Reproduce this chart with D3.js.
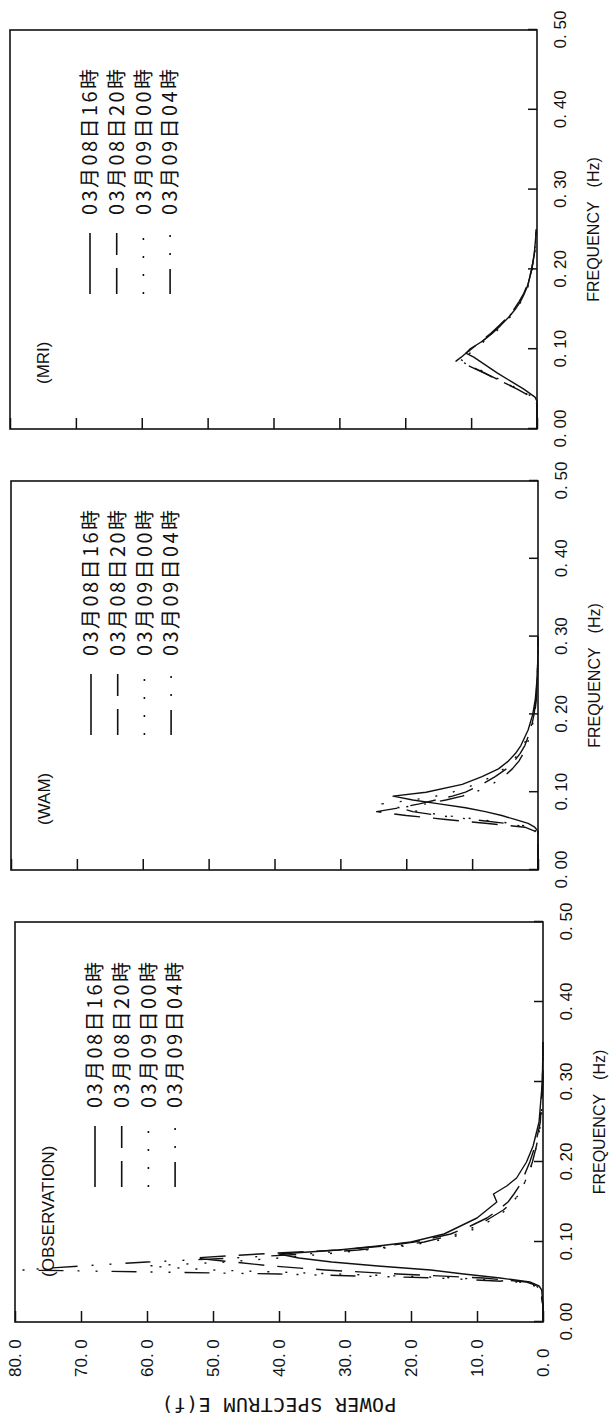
<!DOCTYPE html>
<html>
  <head>
    <meta charset="utf-8" />
    <title>Power spectrum E(f)</title>
    <script src="https://d3js.org/d3.v7.min.js"></script>
    <style>
      body {
        margin: 0;
        background: #fff;
      }
      svg {
        display: block;
      }
      .frame {
        fill: none;
        stroke: #111;
        stroke-width: 1.6;
      }
      .curve {
        fill: none;
        stroke: #111;
        stroke-width: 1.4;
        stroke-linejoin: round;
      }
      .axis path.domain {
        display: none;
      }
      .axis line {
        stroke: #111;
        stroke-width: 1.5;
      }
      .axis text,
      .panel-name,
      .axis-title {
        font-family: 'Liberation Sans', Arial, sans-serif;
        fill: #111;
      }
      .axis text {
        font-size: 17px;
      }
      .panel-name {
        font-size: 17px;
      }
      .axis-title {
        font-size: 16px;
      }
      .power-title {
        font-family: 'DejaVu Sans Mono', monospace;
        font-size: 20px;
        fill: #111;
      }
      .legend text {
        font-family: 'Noto Sans CJK JP', sans-serif;
        font-size: 20px;
        fill: #111;
      }
    </style>
  </head>
  <body>
    <div id="chart"></div>
    <script>
      // 凡例・目盛
      const legendLabels = ['03月08日16時', '03月08日20時', '03月09日00時', '03月09日04時'];
      const freqTicks = [0, 0.1, 0.2, 0.3, 0.4, 0.5];
      const powerTicks = [0, 10, 20, 30, 40, 50, 60, 70, 80];

      // MRI
      const mriFreq = [0, 0.03, 0.035, 0.04, 0.05, 0.06, 0.07, 0.08, 0.085, 0.09, 0.095, 0.10, 0.11, 0.12, 0.13, 0.14, 0.15, 0.16, 0.17, 0.18, 0.20, 0.22, 0.25];
      const mri16 = [0, 0, 0, 0.3, 2, 4, 6, 7.8, 8.7, 9.6, 10.8, 10.2, 8.3, 6.8, 5.5, 4.3, 3.3, 2.5, 1.9, 1.4, 0.8, 0.4, 0.1];
      const mri20 = [0, 0, 0.2, 0.8, 3, 5.5, 8, 10.6, 12.3, 11.5, 10.8, 10, 8.5, 7, 5.7, 4.5, 3.5, 2.7, 2, 1.5, 0.8, 0.4, 0.1];
      const mri00 = [0, 0, 0.2, 0.6, 2.8, 5.2, 7.6, 10.2, 11.7, 11, 10.2, 9.5, 8, 6.5, 5.2, 4.1, 3.2, 2.4, 1.8, 1.3, 0.7, 0.35, 0.1];
      const mri04 = [0, 0, 0.2, 0.7, 2.9, 5.4, 7.9, 10.4, 11.2, 12, 11, 9.8, 8.3, 6.8, 5.5, 4.3, 3.4, 2.6, 2, 1.4, 0.8, 0.4, 0.1];

      // WAM
      const wamFreq = [0, 0.045, 0.05, 0.055, 0.06, 0.065, 0.07, 0.075, 0.08, 0.085, 0.09, 0.095, 0.10, 0.11, 0.12, 0.13, 0.14, 0.15, 0.16, 0.18, 0.20, 0.22, 0.25, 0.28, 0.30];
      const wam16 = [0, 0, 0, 0.5, 1.5, 3.5, 5.5, 8, 11, 15, 19, 22, 17, 11.5, 8.5, 6, 4.5, 3.4, 2.6, 1.5, 0.8, 0.4, 0.1, 0, 0];
      const wam20 = [0, 0, 0.5, 2, 8, 14, 20, 24.5, 21, 18, 15.5, 13, 11, 8.5, 6.5, 4.8, 3.6, 2.7, 2, 1.1, 0.6, 0.3, 0.1, 0, 0];
      const wam00 = [0, 0, 0, 1, 4, 9, 14, 18, 21, 23.7, 19, 15.5, 13, 9.5, 7, 5.2, 3.9, 2.9, 2.2, 1.2, 0.6, 0.3, 0.1, 0, 0];
      const wam04 = [0, 0, 0.3, 1.5, 5, 10, 15, 19, 21, 17, 14, 11.5, 9.5, 7, 5.2, 3.9, 2.9, 2.2, 1.7, 1, 0.5, 0.25, 0.1, 0, 0];

      // OBSERVATION
      const obsFreq = [0, 0.02, 0.04, 0.045, 0.05, 0.055, 0.06, 0.065, 0.07, 0.075, 0.08, 0.085, 0.09, 0.095, 0.10, 0.11, 0.12, 0.13, 0.14, 0.15, 0.16, 0.17, 0.18, 0.20, 0.22, 0.25, 0.30, 0.35];
      const obs16 = [0, 0, 0.2, 0.6, 2, 6.5, 12, 17, 25, 32, 37, 40, 31, 25, 20, 15, 12.5, 10, 8.5, 7, 7.5, 5.5, 4, 2.5, 1.5, 0.6, 0.1, 0];
      const obs20 = [0, 0, 0.3, 0.8, 2.5, 9, 22, 33, 41, 47, 53, 43, 31, 24, 19.5, 14, 11, 8.5, 6.8, 5.3, 4.4, 3.6, 3, 2, 1.2, 0.4, 0.1, 0];
      const obs00 = [0, 0, 0.3, 1, 3.5, 13, 31, 50, 60, 48, 40, 33, 27, 21, 17, 12, 9.5, 7.2, 5.6, 4.6, 3.6, 3, 2.5, 1.5, 1, 0.3, 0, 0];
      const obs04 = [0, 0, 0.4, 1.2, 4, 16, 40, 79, 70, 60, 47, 36, 28, 22, 18, 13, 10, 8, 6, 4.6, 3.6, 3, 2.5, 1.6, 1, 0.3, 0, 0];

      // 線種（実線・破線・点線・一点鎖線）
      const dashStyles = [null, '26,13', '2,16', '25,14,2,16,2,14'];

      // 図は90度回転して貼られている
      const width = 609;
      const height = 1418;

      const panels = [
        { name: '(MRI)', freq: mriFreq, series: [mri16, mri20, mri00, mri04], left: 10, bottom: 429, w: 399, h: 527, labels: false },
        { name: '(WAM)', freq: wamFreq, series: [wam16, wam20, wam00, wam04], left: 11, bottom: 870, w: 389, h: 527, labels: false },
        { name: '(OBSERVATION)', freq: obsFreq, series: [obs16, obs20, obs00, obs04], left: 15, bottom: 1322, w: 400, h: 528, labels: true },
      ];

      const svg = d3
        .select('#chart')
        .append('svg')
        .attr('width', width)
        .attr('height', height);

      svg.append('rect').attr('width', width).attr('height', height).attr('fill', '#fff');

      panels.forEach((p) => {
        const g = svg
          .append('g')
          .attr('transform', `translate(${p.left},${p.bottom}) rotate(-90)`);

        const x = d3.scaleLinear().domain([0, 0.5]).range([0, p.w]);
        const y = d3.scaleLinear().domain([0, 80]).range([p.h, 0]);

        // 周波数軸（内向き目盛）
        const xAxis = g
          .append('g')
          .attr('class', 'axis')
          .attr('transform', `translate(0,${p.h})`)
          .call(
            d3
              .axisBottom(x)
              .tickValues(freqTicks)
              .tickSizeInner(-9)
              .tickSizeOuter(0)
              .tickFormat((d) => d.toFixed(2).replace('.', '. '))
          );
        xAxis.selectAll('text').attr('y', 23).attr('dy', '0.35em');

        // パワー軸
        const yAxis = g
          .append('g')
          .attr('class', 'axis')
          .call(
            d3
              .axisLeft(y)
              .tickValues(powerTicks)
              .tickSizeInner(-11)
              .tickSizeOuter(0)
              .tickFormat((d) => d.toFixed(1).replace('.', '. '))
          );
        if (p.labels) {
          yAxis
            .selectAll('text')
            .attr('x', -55)
            .attr('dy', '0.35em')
            .attr('text-anchor', 'start');
        } else {
          yAxis.selectAll('text').remove();
        }

        // 枠
        g.append('rect')
          .attr('class', 'frame')
          .attr('width', p.w)
          .attr('height', p.h);

        // スペクトル
        const line = d3
          .line()
          .x((d) => x(d[0]))
          .y((d) => y(d[1]));

        p.series.forEach((vals, i) => {
          g.append('path')
            .datum(p.freq.map((f, k) => [f, vals[k]]))
            .attr('class', 'curve')
            .attr('stroke-dasharray', dashStyles[i])
            .attr('d', line);
        });

        // パネル名
        g.append('text')
          .attr('class', 'panel-name')
          .attr('x', 45)
          .attr('y', 33)
          .attr('dy', '0.35em')
          .text(p.name);

        // 凡例
        const legend = g.append('g').attr('class', 'legend');
        legendLabels.forEach((label, i) => {
          const ly = 80 + i * 26.7;
          legend
            .append('line')
            .attr('class', 'curve')
            .attr('x1', 135)
            .attr('x2', 196)
            .attr('y1', ly)
            .attr('y2', ly)
            .attr('stroke-dasharray', dashStyles[i])
            .style('stroke-width', 1.6);
          legend
            .append('text')
            .attr('x', 214)
            .attr('y', ly)
            .attr('dy', '0.36em')
            .attr('textLength', 146)
            .attr('lengthAdjust', 'spacing')
            .text(label);
        });

        // 周波数軸タイトル
        const ft = g
          .append('text')
          .attr('class', 'axis-title')
          .attr('x', p.w / 2)
          .attr('y', p.h + 56)
          .attr('dy', '0.35em')
          .attr('text-anchor', 'middle');
        ft.append('tspan').text('FREQUENCY');
        ft.append('tspan').attr('dx', 14).text('(Hz)');

        // パワー軸タイトル
        if (p.labels) {
          g.append('text')
            .attr('class', 'power-title')
            .attr('transform', `translate(-83,${p.h / 2}) rotate(-90)`)
            .attr('dy', '0.35em')
            .attr('text-anchor', 'middle')
            .attr('textLength', 235)
            .text('POWER SPECTRUM E(f)');
        }
      });
    </script>
  </body>
</html>
